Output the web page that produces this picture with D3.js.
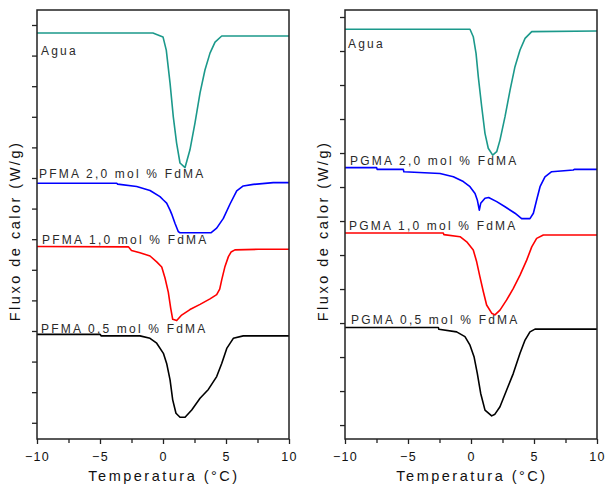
<!DOCTYPE html>
<html>
<head>
<meta charset="utf-8">
<script src="https://cdn.jsdelivr.net/npm/d3@7"></script>
<style>
  body { margin: 0; background: #fff; }
  svg { display: block; font-family: 'Liberation Sans', Arial, sans-serif; }
  .frame { fill: none; stroke: #222; stroke-width: 1.5; }
  .axis path { display: none; }
  .axis line { stroke: #222; stroke-width: 1.3; }
  .axis text { font-size: 12.5px; fill: #111; letter-spacing: 1.3px; }
  .curve { fill: none; stroke-width: 1.6; stroke-linejoin: round; }
  .label { font-size: 12px; fill: #2a2a2a; letter-spacing: 2.2px; }
  .title { font-size: 14.5px; fill: #111; letter-spacing: 2.5px; }
</style>
</head>
<body>
<svg id="chart" width="606" height="485"></svg>
<script>
// temperature axis (°C)
const xTicks = [-10, -5, 0, 5, 10]
const xMinorTicks = [-7.5, -2.5, 2.5, 7.5]

// heat flow, arbitrary units (one y tick per unit, no tick labels)
const leftYTicks = d3.range(0, -14, -1)
const rightYTicks = d3.range(0, -13, -1)

// left panel: PFMA series, [T, flux]
const leftAgua = [[-10, -0.26], [-0.8, -0.26], [0, -0.39], [0.26, -0.82], [0.56, -1.9], [0.82, -3.01], [1.08, -3.86], [1.35, -4.51], [1.75, -4.66], [2.14, -4.08], [2.54, -3.2], [2.94, -2.22], [3.33, -1.47], [3.73, -0.92], [4.13, -0.56], [4.66, -0.36], [10, -0.36]]
const pfma20 = [[-10, -5.17], [-3.67, -5.17], [-3.6, -5.2], [-2.09, -5.28], [-1.03, -5.41], [-0.24, -5.61], [0.03, -5.72], [0.29, -5.82], [0.56, -6.05], [0.69, -6.18], [0.95, -6.48], [1.21, -6.75], [1.35, -6.79], [3.8, -6.79], [4.26, -6.64], [4.79, -6.32], [5.32, -5.85], [5.85, -5.42], [6.37, -5.26], [7.17, -5.21], [8.75, -5.15], [10, -5.15]]
const pfma10 = [[-10, -7.24], [-2.75, -7.25], [-2.5, -7.37], [-1.83, -7.44], [-1.03, -7.55], [-0.5, -7.74], [-0.1, -7.91], [0.16, -8.27], [0.42, -8.73], [0.61, -9.25], [0.77, -9.62], [1.09, -9.66], [1.48, -9.48], [2.14, -9.3], [2.94, -9.13], [3.73, -8.95], [4.26, -8.81], [4.5, -8.63], [4.66, -8.33], [4.92, -7.89], [5.19, -7.57], [5.4, -7.42], [5.71, -7.35], [7.56, -7.33], [10, -7.33]]
const pfma05 = [[-10, -10.11], [-5, -10.11], [-4.9, -10.16], [-1.83, -10.16], [-1.03, -10.24], [-0.5, -10.4], [0.03, -10.73], [0.29, -11.06], [0.56, -11.6], [0.77, -12.25], [1.03, -12.69], [1.35, -12.82], [1.75, -12.82], [2.28, -12.58], [2.94, -12.2], [3.6, -11.91], [4.26, -11.49], [4.66, -11.06], [5.06, -10.57], [5.58, -10.24], [6.37, -10.16], [10, -10.16]]

// right panel: PGMA series, [T, flux]
const rightAgua = [[-10, -0.36], [-0.08, -0.36], [0.18, -0.58], [0.4, -1.07], [0.58, -1.76], [0.85, -2.64], [1.11, -3.42], [1.37, -3.86], [1.72, -4.06], [2.04, -3.96], [2.3, -3.62], [2.7, -2.93], [3.1, -2.15], [3.49, -1.46], [3.89, -0.97], [4.29, -0.63], [4.82, -0.43], [10, -0.41]]
const pgma20 = [[-10, -4.43], [-7.49, -4.43], [-7.45, -4.48], [-5.37, -4.48], [-5.33, -4.55], [-2.46, -4.6], [-1.4, -4.7], [-0.61, -4.84], [-0.08, -4.99], [0.32, -5.19], [0.5, -5.38], [0.66, -5.68], [0.77, -5.48], [1.11, -5.33], [1.4, -5.31], [2.04, -5.43], [2.7, -5.58], [3.49, -5.77], [4.02, -5.93], [4.68, -5.93], [4.95, -5.77], [5.21, -5.38], [5.48, -4.99], [5.87, -4.7], [6.4, -4.55], [8.12, -4.5], [8.2, -4.48], [10, -4.48]]
const pgma10 = [[-10, -6.35], [-2.2, -6.35], [-2.15, -6.4], [-0.87, -6.46], [-0.34, -6.61], [0.18, -6.85], [0.45, -7.2], [0.71, -7.64], [0.98, -8.08], [1.24, -8.47], [1.64, -8.71], [1.9, -8.76], [2.3, -8.62], [2.83, -8.32], [3.36, -7.98], [3.89, -7.59], [4.42, -7.15], [4.82, -6.76], [5.21, -6.51], [5.74, -6.41], [10, -6.41]]
const pgma05 = [[-10, -9.13], [-2.59, -9.13], [-2.55, -9.18], [-1.14, -9.26], [-0.48, -9.4], [-0.08, -9.65], [0.24, -9.99], [0.5, -10.48], [0.77, -11.07], [1.11, -11.56], [1.64, -11.73], [1.9, -11.68], [2.3, -11.46], [2.83, -10.97], [3.36, -10.48], [3.89, -9.89], [4.29, -9.5], [4.68, -9.26], [5.08, -9.18], [10, -9.18]]

const colors = { agua: '#1b998b', c20: '#0000ff', c10: '#ff0000', c05: '#000000' }

const panels = [
  {
    left: 37, right: 289, top: 10, bottom: 439,
    yDomain: [-13.53, 0.49], yTicks: leftYTicks,
    series: [
      { data: leftAgua, color: colors.agua, label: 'Agua', lx: 41, ly: 55 },
      { data: pfma20, color: colors.c20, label: 'PFMA 2,0 mol % FdMA', lx: 39, ly: 178 },
      { data: pfma10, color: colors.c10, label: 'PFMA 1,0 mol % FdMA', lx: 42, ly: 244 },
      { data: pfma05, color: colors.c05, label: 'PFMA 0,5 mol % FdMA', lx: 41, ly: 333 }
    ],
    titleX: 15
  },
  {
    left: 345, right: 597, top: 10, bottom: 439,
    yDomain: [-12.41, 0.206], yTicks: rightYTicks,
    series: [
      { data: rightAgua, color: colors.agua, label: 'Agua', lx: 348, ly: 48 },
      { data: pgma20, color: colors.c20, label: 'PGMA 2,0 mol % FdMA', lx: 350, ly: 165 },
      { data: pgma10, color: colors.c10, label: 'PGMA 1,0 mol % FdMA', lx: 349, ly: 230 },
      { data: pgma05, color: colors.c05, label: 'PGMA 0,5 mol % FdMA', lx: 351, ly: 324 }
    ],
    titleX: 323
  }
]

const svg = d3.select('#chart')

panels.forEach(p => {
  let x = d3.scaleLinear().domain([-10, 10]).range([p.left, p.right])
  let y = d3.scaleLinear().domain(p.yDomain).range([p.bottom, p.top])

  let g = svg.append('g')

  // minor then major ticks on the bottom axis
  g.append('g')
    .attr('class', 'axis')
    .attr('transform', `translate(0, ${p.bottom})`)
    .call(d3.axisBottom(x).tickValues(xMinorTicks).tickSize(4).tickFormat(''))
  g.append('g')
    .attr('class', 'axis')
    .attr('transform', `translate(0, ${p.bottom})`)
    .call(d3.axisBottom(x).tickValues(xTicks).tickSize(5).tickPadding(8).tickFormat(d3.format('d')))

  g.append('g')
    .attr('class', 'axis')
    .attr('transform', `translate(${p.left}, 0)`)
    .call(d3.axisLeft(y).tickValues(p.yTicks).tickSize(5).tickFormat(''))

  let line = d3.line()
    .x(d => x(d[0]))
    .y(d => y(d[1]))

  p.series.forEach(s => {
    g.append('path')
      .attr('class', 'curve')
      .attr('stroke', s.color)
      .attr('d', line(s.data))
  })

  p.series.forEach(s => {
    g.append('text')
      .attr('class', 'label')
      .attr('x', s.lx)
      .attr('y', s.ly)
      .text(s.label)
  })

  g.append('rect')
    .attr('class', 'frame')
    .attr('x', p.left)
    .attr('y', p.top)
    .attr('width', p.right - p.left)
    .attr('height', p.bottom - p.top)

  g.append('text')
    .attr('class', 'title')
    .attr('text-anchor', 'middle')
    .attr('x', x(0) + 1)
    .attr('y', 481)
    .text('Temperatura (°C)')

  g.append('text')
    .attr('class', 'title')
    .attr('text-anchor', 'middle')
    .attr('transform', `translate(${p.titleX + 5}, 231) rotate(-90)`)
    .text('Fluxo de calor (W/g)')
})
</script>
</body>
</html>
